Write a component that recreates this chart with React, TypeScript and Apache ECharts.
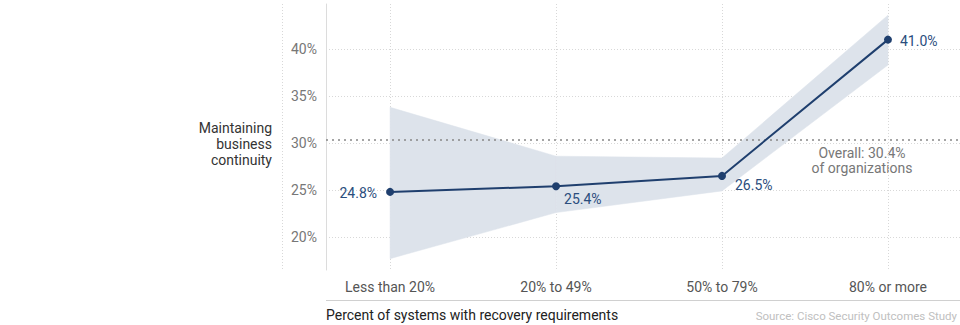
import React, { useEffect, useRef } from "react";
import * as echarts from "echarts";

const categories = ["Less than 20%", "20% to 49%", "50% to 79%", "80% or more"];
const values = [24.8, 25.4, 26.5, 41.0];
const lowerBound = [17.7, 22.6, 24.9, 38.3];
const upperBound = [33.8, 28.6, 28.4, 43.6];
const yTicks = [20, 25, 30, 35, 40];
const overall = 30.4;

const FONT = "Roboto, 'Noto Sans', sans-serif";
const NAVY = "#1f3f6e";

export default function App() {
  const ref = useRef<HTMLDivElement>(null);
  useEffect(() => {
    if (!ref.current) return;
    const chart = echarts.init(ref.current, null, { renderer: "svg" });
    const labelPos: any[] = [
      { position: "left", distance: 9, offset: [0, 1] },
      { position: "right", distance: 4, offset: [0, 13] },
      { position: "right", distance: 9, offset: [0, 9] },
      { position: "right", distance: 8, offset: [0, 1] },
    ];
    chart.setOption({
      animation: false,
      textStyle: { fontFamily: FONT },
      grid: { left: 326, right: 0, top: 4, height: 266 },
      xAxis: {
        type: "value",
        min: -0.386,
        max: 3.434,
        splitNumber: 4,
        axisLine: { show: false },
        axisTick: { show: false },
        axisLabel: {
          showMinLabel: false,
          showMaxLabel: false,
          margin: 10,
          color: "#555",
          fontSize: 14,
          fontFamily: FONT,
          formatter: (v: number) => (Number.isInteger(v) ? categories[v] ?? "" : ""),
        },
        splitLine: {
          show: true,
          showMinLine: false,
          showMaxLine: false,
          lineStyle: { color: "#d8d8d8", type: [1, 2], width: 1 },
        },
      },
      yAxis: {
        type: "value",
        min: 16.49,
        max: 44.79,
        splitNumber: 5,
        axisLine: { show: true, onZero: false, lineStyle: { color: "#dcdcdc", width: 1 } },
        axisTick: { show: false },
        axisLabel: {
          showMinLabel: false,
          showMaxLabel: false,
          margin: 9,
          color: "#777",
          fontSize: 14,
          fontFamily: FONT,
          formatter: (v: number) => (yTicks.includes(v) ? v + "%" : ""),
        },
        splitLine: {
          show: true,
          showMinLine: false,
          showMaxLine: false,
          lineStyle: { color: "#d8d8d8", type: [1, 2], width: 1 },
        },
      },
      series: [
        {
          type: "custom",
          silent: true,
          z: 1,
          data: lowerBound.map((lo, i) => [i, lo, upperBound[i]]),
          encode: { x: 0, y: [1, 2] },
          renderItem: (params: any, api: any) => {
            const i = params.dataIndex;
            if (i >= lowerBound.length - 1) return null;
            const p1 = api.coord([i, upperBound[i]]);
            const p2 = api.coord([i + 1, upperBound[i + 1]]);
            const p3 = api.coord([i + 1, lowerBound[i + 1]]);
            const p4 = api.coord([i, lowerBound[i]]);
            return {
              type: "polygon",
              shape: { points: [p1, p2, p3, p4] },
              style: { fill: "#dde3eb", stroke: "#dde3eb", lineWidth: 0.5 },
            };
          },
        },
        {
          type: "line",
          data: values.map((v, i) => ({
            value: [i, v],
            label: {
              show: true,
              ...labelPos[i],
              formatter: v.toFixed(1) + "%",
              color: "#2a4d7d",
              fontSize: 14,
              fontFamily: FONT,
            },
          })),
          symbol: "circle",
          symbolSize: 8,
          itemStyle: { color: NAVY },
          lineStyle: { color: NAVY, width: 2 },
          z: 5,
          markLine: {
            silent: true,
            symbol: "none",
            label: { show: false },
            lineStyle: { color: "#888", type: [2, 4], width: 1.5 },
            data: [{ yAxis: overall }],
          },
        },
      ],
      graphic: [
        {
          type: "line",
          shape: { x1: 282.5, y1: 4, x2: 282.5, y2: 270 },
          style: { stroke: "#d8d8d8", lineWidth: 1, lineDash: [1, 2] },
          silent: true,
        },
        {
          type: "line",
          shape: { x1: 326, y1: 300.5, x2: 960, y2: 300.5 },
          style: { stroke: "#d0d0d0", lineWidth: 1 },
          silent: true,
        },
        {
          type: "text",
          x: 272,
          y: 144,
          style: {
            text: "Maintaining\nbusiness\ncontinuity",
            align: "right",
            verticalAlign: "middle",
            fill: "#333",
            fontSize: 14,
            lineHeight: 16,
            fontFamily: FONT,
          },
        },
        {
          type: "text",
          x: 862,
          y: 160,
          style: {
            text: "Overall: " + overall + "%\nof organizations",
            align: "center",
            verticalAlign: "middle",
            fill: "#777",
            fontSize: 14,
            lineHeight: 15,
            fontFamily: FONT,
          },
        },
        {
          type: "text",
          x: 326,
          y: 315,
          style: {
            text: "Percent of systems with recovery requirements",
            align: "left",
            verticalAlign: "middle",
            fill: "#222",
            fontSize: 14,
            fontFamily: FONT,
          },
        },
        {
          type: "text",
          x: 957,
          y: 316,
          style: {
            text: "Source: Cisco Security Outcomes Study",
            align: "right",
            verticalAlign: "middle",
            fill: "#c0c0c0",
            fontSize: 11.5,
            fontFamily: FONT,
          },
        },
      ],
    });
    return () => chart.dispose();
  }, []);
  return <div ref={ref} style={{ width: 960, height: 325, position: "absolute", left: 0, top: 0 }} />;
}
